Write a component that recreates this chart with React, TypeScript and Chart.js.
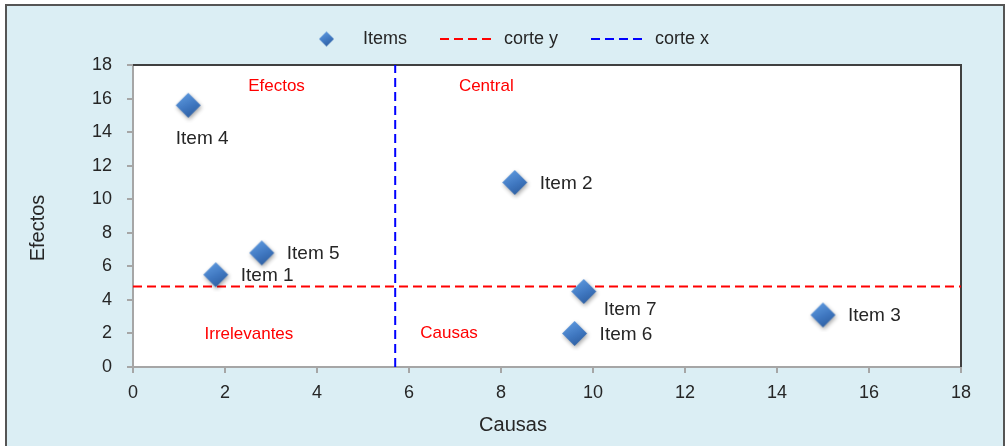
import { useEffect, useRef } from "react";
import { Chart, registerables } from "chart.js";

Chart.register(...registerables);

// ---- data ----
const itemNames = ["Item 1", "Item 2", "Item 3", "Item 4", "Item 5", "Item 6", "Item 7"];
const causas = [1.8, 8.3, 15, 1.2, 2.8, 9.6, 9.8];
const efectos = [5.5, 11, 3.1, 15.6, 6.8, 2, 4.5];
const corteYValue = 4.8;
const corteXValue = 5.7;
const axisMin = 0;
const axisMax = 18;
const axisStep = 2;
const seriesNames = ["Items", "corte y", "corte x"];
const quadrantNames = ["Efectos", "Central", "Irrelevantes", "Causas"];
const quadrantX = [3.12, 7.68, 2.52, 6.87];
const quadrantY = [16.75, 16.75, 1.97, 2.03];
const xTitle = "Causas";
const yTitle = "Efectos";

// label placement per item (style, not data)
const labelPlacement = ["right", "right", "right", "below", "right", "right", "belowRight"];

const FONT = "'Liberation Sans', Arial, sans-serif";
const TEXT = "#262626";
const DASH = [9, 5];

function makeDiamond(r: number, shadow: boolean): HTMLCanvasElement {
  const pad = shadow ? 5 : 1;
  const size = Math.ceil(2 * r + 2 * pad);
  const c = document.createElement("canvas");
  c.width = size;
  c.height = size;
  const ctx = c.getContext("2d")!;
  const cx = size / 2;
  const cy = size / 2;
  if (shadow) {
    ctx.shadowColor = "rgba(0,0,0,0.35)";
    ctx.shadowBlur = 4;
    ctx.shadowOffsetX = 1;
    ctx.shadowOffsetY = 2;
  }
  const g = ctx.createLinearGradient(cx - r * 0.5, cy - r, cx + r * 0.5, cy + r);
  g.addColorStop(0, "#5f9be0");
  g.addColorStop(0.55, "#3f77c0");
  g.addColorStop(1, "#2c5c9e");
  ctx.fillStyle = g;
  ctx.beginPath();
  ctx.moveTo(cx, cy - r);
  ctx.lineTo(cx + r, cy);
  ctx.lineTo(cx, cy + r);
  ctx.lineTo(cx - r, cy);
  ctx.closePath();
  ctx.fill();
  return c;
}

function makeDashLine(color: string, w: number): HTMLCanvasElement {
  const c = document.createElement("canvas");
  c.width = w;
  c.height = 4;
  const ctx = c.getContext("2d")!;
  ctx.strokeStyle = color;
  ctx.lineWidth = 2;
  ctx.setLineDash(DASH);
  ctx.beginPath();
  ctx.moveTo(0, 2);
  ctx.lineTo(w, 2);
  ctx.stroke();
  return c;
}

export default function App() {
  const ref = useRef<HTMLCanvasElement | null>(null);

  useEffect(() => {
    if (!ref.current) return;
    const marker = makeDiamond(12.5, true);
    const legendMarker = makeDiamond(7.5, false);
    const legendRed = makeDashLine("#ff0000", 55);
    const legendBlue = makeDashLine("#0000ff", 55);

    const decor = {
      id: "decor",
      afterLayout(chart: any) {
        const lg = chart.legend;
        if (lg) {
          const shift = 23.5;
          lg.left += shift;
          lg.right += shift;
          lg.top = -3;
          lg.bottom = lg.top + lg.height;
        }
      },
      beforeDraw(chart: any) {
        const { ctx, chartArea: a } = chart;
        ctx.save();
        ctx.fillStyle = "#ffffff";
        ctx.fillRect(a.left, a.top, a.right - a.left, a.bottom - a.top);
        ctx.restore();
      },
      beforeDatasetsDraw(chart: any) {
        const { ctx, chartArea: a } = chart;
        ctx.save();
        ctx.strokeStyle = "#404040";
        ctx.lineWidth = 2;
        ctx.beginPath();
        ctx.moveTo(a.left, a.top);
        ctx.lineTo(a.right, a.top);
        ctx.lineTo(a.right, a.bottom);
        ctx.stroke();
        ctx.restore();
      },
      afterDatasetsDraw(chart: any) {
        const { ctx } = chart;
        const xs = chart.scales.x;
        const ys = chart.scales.y;
        ctx.save();
        // quadrant labels
        ctx.fillStyle = "#ff0000";
        ctx.font = `17px ${FONT}`;
        ctx.textAlign = "center";
        ctx.textBaseline = "middle";
        quadrantNames.forEach((n, i) => {
          ctx.fillText(n, xs.getPixelForValue(quadrantX[i]), ys.getPixelForValue(quadrantY[i]));
        });
        // item labels
        ctx.fillStyle = TEXT;
        ctx.font = `19px ${FONT}`;
        itemNames.forEach((n, i) => {
          const px = xs.getPixelForValue(causas[i]);
          const py = ys.getPixelForValue(efectos[i]);
          const p = labelPlacement[i];
          if (p === "below") {
            ctx.textAlign = "center";
            ctx.fillText(n, px + 14, py + 33);
          } else if (p === "belowRight") {
            ctx.textAlign = "left";
            ctx.fillText(n, px + 20, py + 18);
          } else {
            ctx.textAlign = "left";
            ctx.fillText(n, px + 25, py + 1);
          }
        });
        // axis titles
        ctx.font = `20px ${FONT}`;
        ctx.textAlign = "center";
        ctx.fillText(xTitle, 513, 425);
        ctx.translate(38, 228);
        ctx.rotate(-Math.PI / 2);
        ctx.fillText(yTitle, 0, 0);
        ctx.restore();
      },
    };

    const commonTicks = {
      stepSize: axisStep,
      color: TEXT,
      font: { size: 18, family: FONT },
    };
    const commonGrid = {
      drawOnChartArea: false,
      drawTicks: true,
      tickLength: 6,
      color: "#a6a6a6",
      lineWidth: 2,
    };
    const commonBorder = { color: "#a6a6a6", width: 2 };

    const chart = new Chart(ref.current, {
      type: "scatter",
      data: {
        datasets: [
          {
            label: seriesNames[0],
            data: causas.map((c, i) => ({ x: c, y: efectos[i] })),
            pointStyle: marker as any,
            pointRadius: 12,
            backgroundColor: "#3f77c0",
            borderColor: "#3f77c0",
          },
          {
            type: "line",
            label: seriesNames[1],
            data: [
              { x: axisMin, y: corteYValue },
              { x: axisMax, y: corteYValue },
            ],
            borderColor: "#ff0000",
            backgroundColor: "#ff0000",
            borderWidth: 2,
            borderDash: DASH,
            pointRadius: 0,
            fill: false,
          },
          {
            type: "line",
            label: seriesNames[2],
            data: [
              { x: corteXValue, y: axisMin },
              { x: corteXValue, y: axisMax },
            ],
            borderColor: "#0000ff",
            backgroundColor: "#0000ff",
            borderWidth: 2,
            borderDash: DASH,
            pointRadius: 0,
            fill: false,
          },
        ] as any,
      },
      options: {
        responsive: false,
        animation: false,
        devicePixelRatio: 1,
        layout: { padding: { left: 0, right: 45, top: 0, bottom: 0 } },
        plugins: {
          tooltip: { enabled: false },
          legend: {
            display: true,
            position: "top",
            labels: {
              usePointStyle: true,
              pointStyleWidth: 55,
              padding: 33,
              color: TEXT,
              font: { size: 18, family: FONT },
              generateLabels: (c: any) => {
                const items = (Chart.defaults.plugins.legend.labels.generateLabels as any)(c);
                const styles = [legendMarker, legendRed, legendBlue];
                items.forEach((it: any, i: number) => {
                  it.pointStyle = styles[i];
                });
                return items;
              },
            },
          },
        },
        scales: {
          x: {
            type: "linear",
            min: axisMin,
            max: axisMax,
            ticks: { ...commonTicks, padding: 9 },
            grid: commonGrid,
            border: commonBorder,
            afterFit: (s: any) => {
              s.height = 79;
            },
          },
          y: {
            type: "linear",
            min: axisMin,
            max: axisMax,
            ticks: { ...commonTicks, padding: 15 },
            grid: commonGrid,
            border: commonBorder,
            afterFit: (s: any) => {
              s.width = 133;
            },
          },
        },
      } as any,
      plugins: [
        decor as any,
        {
          id: "legendHeight",
          afterInit(c: any) {
            const lg = c.legend;
            if (lg && !lg.__patched) {
              const orig = lg.fit.bind(lg);
              lg.fit = function () {
                orig();
                this.height = 65;
              };
              lg.__patched = true;
            }
          },
        } as any,
      ],
    });
    return () => chart.destroy();
  }, []);

  return (
    <div
      style={{
        position: "fixed",
        left: 0,
        top: 0,
        width: 1006,
        height: 446,
        overflow: "hidden",
        background: "#ffffff",
      }}
    >
      <div
        style={{
          position: "absolute",
          left: 5,
          top: 4,
          width: 1000,
          height: 470,
          boxSizing: "border-box",
          border: "2px solid #555555",
          background: "#dbeef4",
        }}
      />
      <canvas
        ref={ref}
        width={1006}
        height={446}
        style={{ position: "absolute", left: 0, top: 0, width: 1006, height: 446 }}
      />
    </div>
  );
}
